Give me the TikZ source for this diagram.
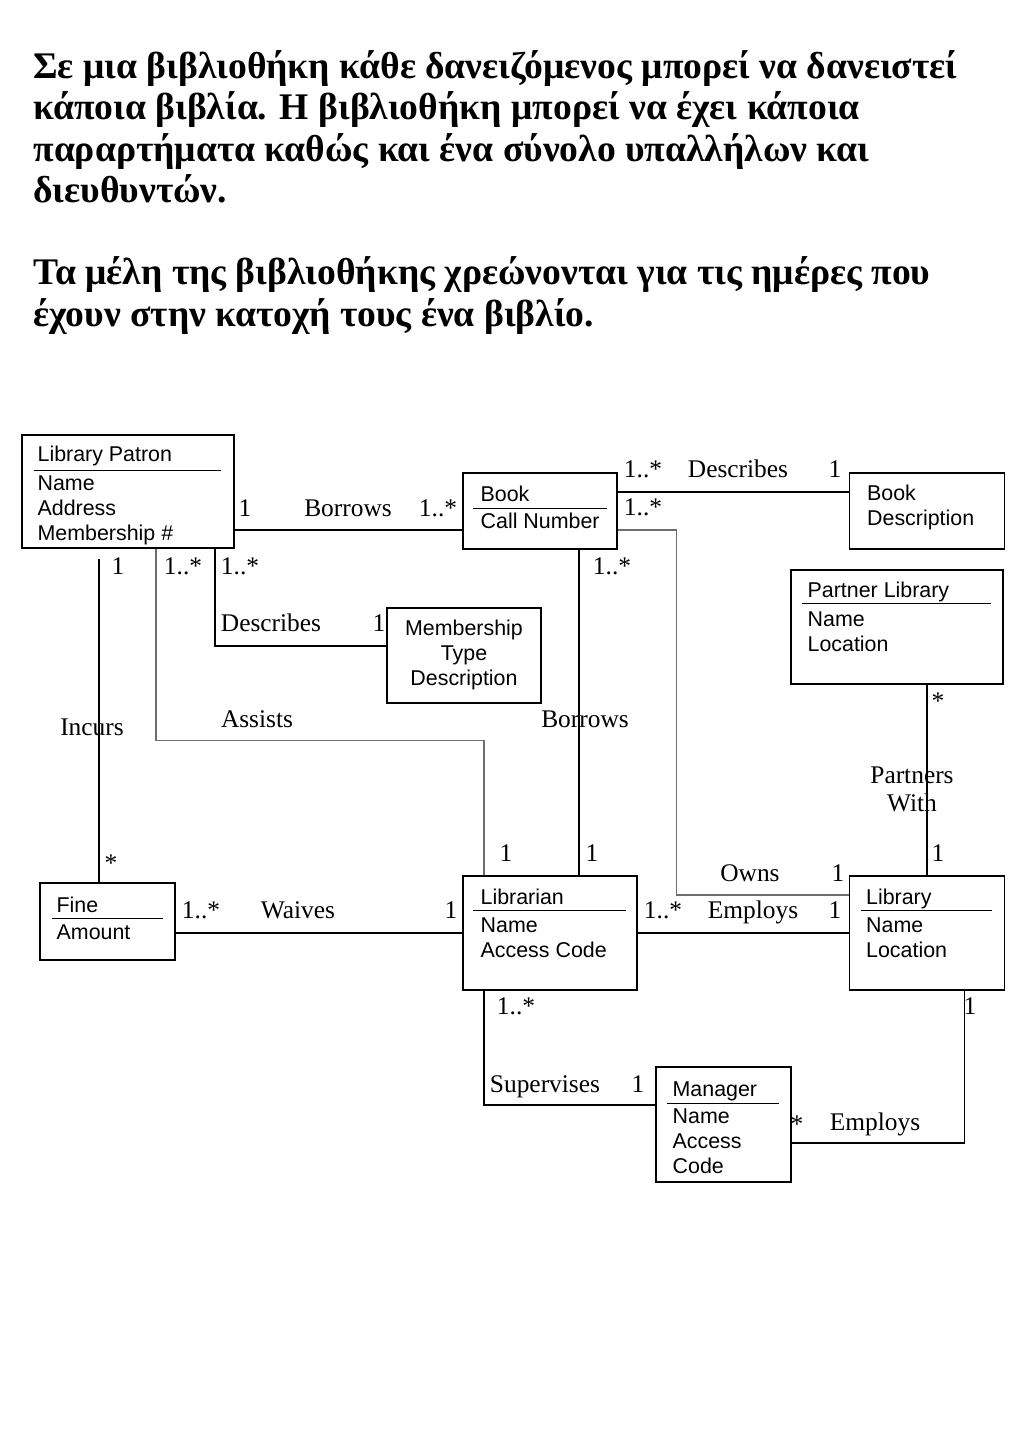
\documentclass[tikz,border=0pt]{standalone}
\usepackage{fontspec}
\setmainfont{Liberation Serif}
\setsansfont{Liberation Sans}
\usetikzlibrary{positioning, calc}
\definecolor{linkgray}{RGB}{110,110,110}

\begin{document}
\begin{tikzpicture}[x=0.5pt, y=-0.5pt,
    classbox/.style={rectangle, draw, line width=0.75pt, inner sep=0pt},
    classname/.style={anchor=base west, inner sep=0pt, font=\sffamily\fontsize{10.7}{12.35}\selectfont},
    attrs/.style={anchor=north west, align=left, inner sep=0pt, font=\sffamily\fontsize{10.7}{12.35}\selectfont},
    classrule/.style={line width=0.65pt},
    assoc/.style={line width=0.7pt, color=#1}, assoc/.default=black,
    role/.style={anchor=base, inner sep=0pt, font=\fontsize{12.7}{14}\selectfont},
    every node/.style={inner sep=0pt}
]
\useasboundingbox (0,0) rectangle (1024,1448);

% Intro text
\node[anchor=north west, align=left, font=\bfseries\fontsize{18.8}{20.65}\selectfont] (intro) at (33,42) {\rule{0pt}{18pt}Σε μια βιβλιοθήκη κάθε δανειζόμενος μπορεί να δανειστεί\\
κάποια βιβλία. Η βιβλιοθήκη μπορεί να έχει κάποια\\
παραρτήματα καθώς και ένα σύνολο υπαλλήλων και\\
διευθυντών.\\[20.65pt]
Τα μέλη της βιβλιοθήκης χρεώνονται για τις ημέρες που\\
έχουν στην κατοχή τους ένα βιβλίο.};

% Library Patron
\node[classbox, minimum width=106pt, minimum height=56.5pt] (patron) at (128,491.5) {};
\node[classname] (patronT) at ($(patron.north west)+(16,27)$) {Library Patron};
\draw[classrule] ($(patron.north west)+(13,36)$) -- ($(patron.north east)+(-14,36)$);
\node[attrs] (patronA) at ($(patron.north west)+(16,38.7)$) {\strut Name\\Address\\Membership \#};

% Book
\node[classbox, minimum width=77pt, minimum height=38pt] (book) at (540,511) {};
\node[classname] (bookT) at ($(book.north west)+(18,29)$) {Book};
\draw[classrule] ($(book.north west)+(11,36)$) -- ($(book.north east)+(-11,36)$);
\node[attrs] (bookA) at ($(book.north west)+(18,38.7)$) {\strut Call Number};

% Book Description
\node[classbox, minimum width=77.5pt, minimum height=38pt, right=115.5pt of book] (bookdesc) {};
\node[attrs] (bookdescT) at ($(bookdesc.north west)+(18,10.7)$) {\strut Book\\Description};

% Partner Library
\node[classbox, minimum width=106pt, minimum height=57pt] (partner) at (897,627) {};
\node[classname] (partnerT) at ($(partner.north west)+(17,28)$) {Partner Library};
\draw[classrule] ($(partner.north west)+(12,34)$) -- ($(partner.north east)+(-13,34)$);
\node[attrs] (partnerA) at ($(partner.north west)+(17,39.7)$) {\strut Name\\Location};

% Membership Type
\node[classbox, minimum width=77pt, minimum height=47.5pt] (memtype) at (464,655.5) {};
\node[attrs, anchor=north, align=center] (memtypeT) at ($(memtype.north)+(0,10.7)$) {\strut Membership\\Type\\Description};

% Fine
\node[classbox, minimum width=67.5pt, minimum height=38.5pt] (fine) at (107.5,921.5) {};
\node[classname] (fineT) at ($(fine.north west)+(17,30)$) {Fine};
\draw[classrule] ($(fine.north west)+(13,36)$) -- ($(fine.north east)+(-13,36)$);
\node[attrs] (fineA) at ($(fine.north west)+(17,39.7)$) {\strut Amount};

% Librarian
\node[classbox, minimum width=87pt, minimum height=57pt] (librarian) at (550,933) {};
\node[classname] (librarianT) at ($(librarian.north west)+(18,29)$) {Librarian};
\draw[classrule] ($(librarian.north west)+(11,35)$) -- ($(librarian.north east)+(-12,35)$);
\node[attrs] (librarianA) at ($(librarian.north west)+(18,39.7)$) {\strut Name\\Access Code};

% Library
\node[classbox, minimum width=77.5pt, minimum height=57pt, right=105.5pt of librarian] (library) {};
\node[classname] (libraryT) at ($(library.north west)+(17,29)$) {Library};
\draw[classrule] ($(library.north west)+(12,35)$) -- ($(library.north east)+(-13,35)$);
\node[attrs] (libraryA) at ($(library.north west)+(17,39.7)$) {\strut Name\\Location};

% Manager
\node[classbox, minimum width=67.5pt, minimum height=57.5pt] (manager) at (723.5,1124.5) {};
\node[classname] (managerT) at ($(manager.north west)+(17,30)$) {Manager};
\draw[classrule] ($(manager.north west)+(12,37)$) -- ($(manager.north east)+(-13,37)$);
\node[attrs] (managerA) at ($(manager.north west)+(17,39.7)$) {\strut Name\\Access\\Code};

% Associations
\draw[assoc] ($(patron.east)+(0,38.5)$) -- ($(book.west)+(0,19)$);
\draw[assoc] ($(book.east)+(0,-19)$) -- ($(bookdesc.west)+(0,-19)$);
\draw[assoc=linkgray] ($(book.east)+(0,19)$) -| ($(library.west)+(-172,-38)$) -- ($(library.west)+(0,-38)$);
\draw[assoc] ($(book.south)+(39,0)$) -- ($(librarian.north)+(29,0)$);
\draw[assoc] ($(patron.south)+(-29,10)$) -- ($(fine.north)+(-8.5,0)$);
\draw[assoc=linkgray] ($(patron.south)+(28,0)$) |- ($(librarian.north)+(-66,-135)$) -- ($(librarian.north)+(-66,0)$);
\draw[assoc] ($(patron.south)+(87,0)$) |- ($(memtype.west)+(0,-9.5)$);
\draw[assoc] ($(fine.east)+(0,11.5)$) -- (librarian.west);
\draw[assoc] (librarian) -- (library);
\draw[assoc] (partner.south -| library.north) -- (library.north);
\draw[assoc] ($(librarian.south)+(-66,0)$) |- ($(manager.west)+(0,-19.5)$);
\draw[assoc] ($(library.south)+(37.5,0)$) |- ($(manager.east)+(0,18.5)$);

% Patron -- Book
\node[role] (m1) at (245,516) {1};
\node[role] (r1) at (348,516) {Borrows};
\node[role] (m2) at (438,516) {1..*};
% Book -- Book Description
\node[role] (m3) at (643,477) {1..*};
\node[role] (r2) at (738,477) {Describes};
\node[role] (m4) at (835,477) {1};
\node[role] (m5) at (643,515) {1..*};
% below Book and Patron
\node[role] (m6) at (612,574) {1..*};
\node[role] (m7) at (118,574) {1};
\node[role] (m8) at (183,574) {1..*};
\node[role] (m9) at (240,574) {1..*};
\node[role] (r3) at (271,631) {Describes};
\node[role] (m10) at (379,631) {1};
\node[role] (r4) at (92,735) {Incurs};
\node[role] (r5) at (257,727) {Assists};
\node[role] (r6) at (585,727) {Borrows};
\node[role] (m11) at (111,871) {*};
% Partners With
\node[role] (m12) at (938,709) {*};
\node[role, anchor=north, align=center] (r7) at (912,766) {Partners\\With};
\node[role] (m13) at (938,861) {1};
% into Librarian
\node[role] (m14) at (506,861) {1};
\node[role] (m15) at (592,861) {1};
\node[role] (r8) at (750,881) {Owns};
\node[role] (m16) at (838,881) {1};
% Waives and Employs
\node[role] (m17) at (201,918) {1..*};
\node[role] (r9) at (298,918) {Waives};
\node[role] (m18) at (451,918) {1};
\node[role] (m19) at (663,918) {1..*};
\node[role] (r10) at (753,918) {Employs};
\node[role] (m20) at (835,918) {1};
% Manager
\node[role] (m21) at (516,1014) {1..*};
\node[role] (m22) at (970,1014) {1};
\node[role] (r11) at (545,1092) {Supervises};
\node[role] (m23) at (638,1092) {1};
\node[role] (m24) at (797,1132) {*};
\node[role] (r12) at (875,1130) {Employs};

\end{tikzpicture}
\end{document}
